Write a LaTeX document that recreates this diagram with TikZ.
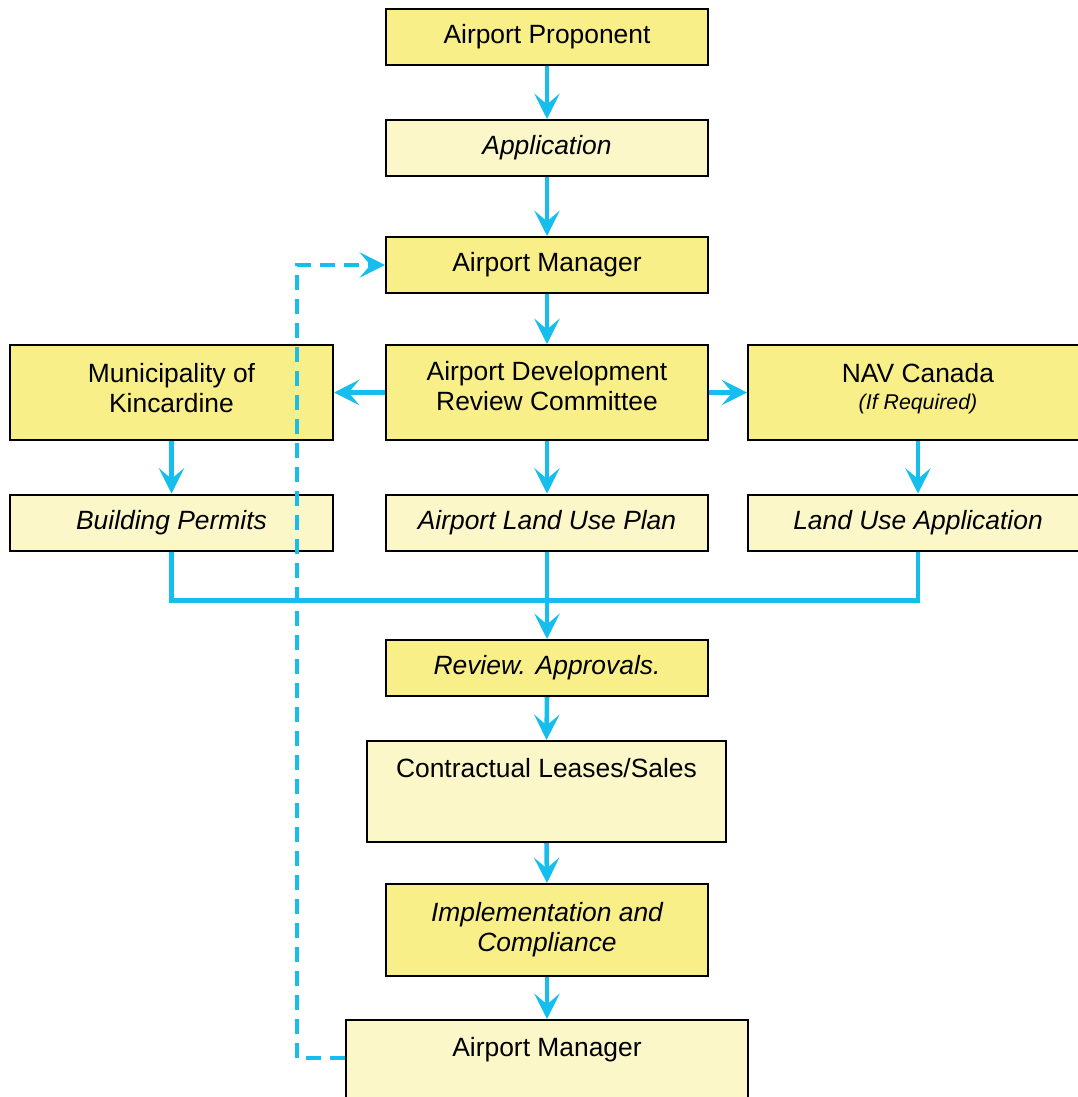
\documentclass[tikz,border=0pt]{standalone}
\usepackage{fontspec}
\setmainfont{Liberation Sans}
\usetikzlibrary{arrows.meta,calc}

\definecolor{boxdark}{RGB}{248,239,137}
\definecolor{boxlight}{RGB}{251,247,200}
\definecolor{flowcyan}{RGB}{22,190,238}

\begin{document}
\begin{tikzpicture}[x=0.75pt,y=-0.75pt,
    box/.style={draw=black,line width=1.5pt,inner sep=0pt,align=center,
        font=\fontsize{19.8}{22.5}\selectfont,minimum width=241.5pt,minimum height=42pt},
    dark/.style={box,fill=boxdark},
    light/.style={box,fill=boxlight},
    flow/.style={draw=flowcyan,line width=3.4pt,
        -{Stealth[length=19pt,width=19pt,inset=8pt]}},
    back/.style={flow,dash pattern=on 11pt off 7pt}]
                \useasboundingbox (0,0) rectangle (1078,1097);

                % centre column
                \node[dark] (prop) at (547,37) {Airport Proponent};
                \node[light] (app) at (547,148) {\itshape Application};
                \node[dark] (mgr) at (547,265) {Airport Manager};
                \node[dark,minimum height=71.25pt,text depth=9.75pt] (adrc) at (547,392.5) {Airport Development\\Review Committee};
                \node[light] (plan) at (547,522.5) {\itshape Airport Land Use Plan};
                \node[dark] (rev) at (547,668) {\itshape Review. Approvals.};
                \node[light,minimum width=269.25pt,minimum height=0pt,text height=27pt,text depth=48.75pt] (lease) at (546.5,791.5) {Contractual Leases/Sales};
                \node[dark,minimum height=69pt] (impl) at (547,930) {\itshape Implementation and\\\itshape Compliance};
                \node[light,minimum width=301.5pt,minimum height=0pt,text height=27pt,text depth=40.5pt] (mgrb) at (547,1065) {Airport Manager};

                % side columns
                \node[dark,minimum width=242.25pt,minimum height=71.25pt,text depth=6.75pt] (muni) at (171.5,392.5) {Municipality of\\Kincardine};
                \node[light,minimum width=242.25pt] (perm) at (171.5,522.5) {\itshape Building Permits};
                \node[dark,minimum width=255pt,minimum height=71.25pt,text depth=9.5pt] (nav) at (918,392.5) {NAV Canada\\[-2pt]{\fontsize{16}{18}\selectfont\itshape (If Required)}};
                \node[light,minimum width=255pt] (lua) at (918,522.5) {\itshape Land Use Application};

                \foreach \a/\b in {prop/app,app/mgr,mgr/adrc,adrc/plan,muni/perm,nav/lua,plan/rev,rev/lease,lease/impl,impl/mgrb}
                \draw[flow] (\a.south) -- (\b.north);
                \draw[flow] (adrc.west) -- (muni.east);
                \draw[flow] (adrc.east) -- (nav.west);

                \draw[flow,-] (perm.south) -- ++(0,49) -| (lua.south);

                \draw[back] ($(mgrb.north west)+(0,39)$) -- ++(-48,0) |- (mgr.west);

            \end{tikzpicture}
\end{document}
